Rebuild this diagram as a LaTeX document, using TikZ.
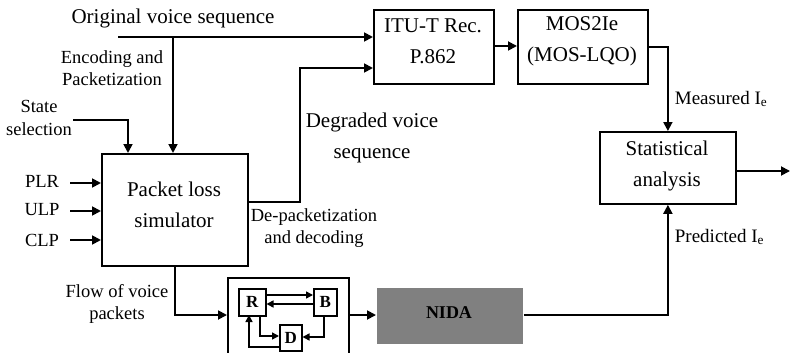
\documentclass[tikz,border=0pt]{standalone}
\usepackage{fontspec}
\setmainfont{Liberation Serif}
\usetikzlibrary{arrows.meta}
\begin{document}
\begin{tikzpicture}[x=1pt,y=-1pt,
  line width=1.8pt,
  >={Triangle[length=9pt,width=9pt]},
  box/.style={draw,line width=1.8pt,inner sep=0pt,anchor=north west},
  big/.style={font=\fontsize{21}{31}\selectfont,align=center,inner sep=0pt},
  lbl/.style={font=\fontsize{18.5}{22.5}\selectfont,align=center,inner sep=0pt},
  sm/.style={draw,line width=1.5pt,inner sep=0pt,anchor=north west,font=\fontsize{17}{17}\selectfont\bfseries},
  sarr/.style={line width=1.5pt,-{Triangle[length=7pt,width=7pt]}}]
\useasboundingbox (0,0) rectangle (790,353);
\begin{scope}
\clip (0,0) rectangle (790,353);
% main boxes
\node[box,minimum width=146pt,minimum height=112pt] (pls) at (101,153) {};
\node[big] (plst) at (174,205) {Packet loss\\simulator};
\node[box,minimum width=120pt,minimum height=74pt] (itu) at (373,9) {};
\node[big] (itut) at (433,41) {ITU-T Rec.\\P.862};
\node[box,minimum width=130pt,minimum height=74pt] (mos) at (517,9) {};
\node[big] (most) at (582,41) {MOS2Ie\\(MOS-LQO)};
\node[box,minimum width=136pt,minimum height=72pt] (stat) at (599,131) {};
\node[big] (statt) at (667,166) {Statistical\\analysis};
\node[box,minimum width=121pt,minimum height=90pt] (mk) at (227,277) {};
\node[box,draw=none,fill={rgb,255:red,128;green,128;blue,128},minimum width=146pt,minimum height=56pt] (nida) at (376,287) {};
\node[font=\fontsize{18}{18}\selectfont\bfseries,inner sep=0pt] (nidat) at (449,313) {NIDA};
% Markov chain boxes
\node[sm,minimum width=27pt,minimum height=27pt] (R) at (238,288) {R};
\node[sm,minimum width=23pt,minimum height=27pt] (B) at (313,288) {B};
\node[sm,minimum width=22pt,minimum height=26pt] (D) at (279,324) {D};
% texts
\node[big] (ovs) at (173,18) {Original voice sequence};
\node[lbl] (enc) at (112,68) {Encoding and\\Packetization};
\node[lbl] (ss) at (39,118) {State\\selection};
\node[lbl] (plr) at (42,181) {PLR};
\node[lbl] (ulp) at (42,210) {ULP};
\node[lbl] (clp) at (42,240) {CLP};
\node[big] (dvs) at (372,138) {Degraded voice\\sequence};
\node[lbl] (dep) at (314,228) {De-packetization\\and decoding};
\node[lbl] (flow) at (117,304) {Flow of voice\\packets};
\node[lbl,anchor=west,font=\fontsize{19}{19}\selectfont] (meas) at (674,99) {Measured I\textsubscript{e}};
\node[lbl,anchor=west,font=\fontsize{19}{19}\selectfont] (pred) at (674,237) {Predicted I\textsubscript{e}};
% coordinates
\coordinate (o1) at (118,37);
\coordinate (o2) at (173,37);
\coordinate (s1) at (73,120);
\coordinate (p1) at (70,183);
\coordinate (p2) at (70,211);
\coordinate (p3) at (70,240);
\coordinate (out) at (790,171);
% connectors
\draw[->] (o1) -- (itu.west |- o1);
\draw[->] (o2) -- (o2 |- pls.north);
\draw[->] (s1) -| (128,153);
\draw[->] (p1) -- (pls.west |- p1);
\draw[->] (p2) -- (pls.west |- p2);
\draw[->] (p3) -- (pls.west |- p3);
\draw[->] (pls.east |- 0,202) -| (300,68) -- (itu.west |- 0,68);
\draw[->] (itu.east |- 0,46) -- (mos.west |- 0,46);
\draw[->] (mos.east |- 0,47) -| (stat.north);
\draw[->] (stat.east |- out) -- (out);
\draw[->] (pls.south) |- (mk.west |- 0,315);
\draw[->] (mk.east |- 0,315) -- (nida.west |- 0,315);
\draw[->] (nida.east |- 0,315) -| (stat.south);
% markov arrows
\draw[sarr] (R.east |- 0,295) -- (B.west |- 0,295);
\draw[sarr] (B.west |- 0,304) -- (R.east |- 0,304);
\draw[sarr] (260,315) |- (D.west |- 0,336);
\draw[sarr] (324,315) |- (D.east |- 0,337);
\draw[sarr] (D.west |- 0,347) -| (249,315);
\end{scope}
\end{tikzpicture}
\end{document}
